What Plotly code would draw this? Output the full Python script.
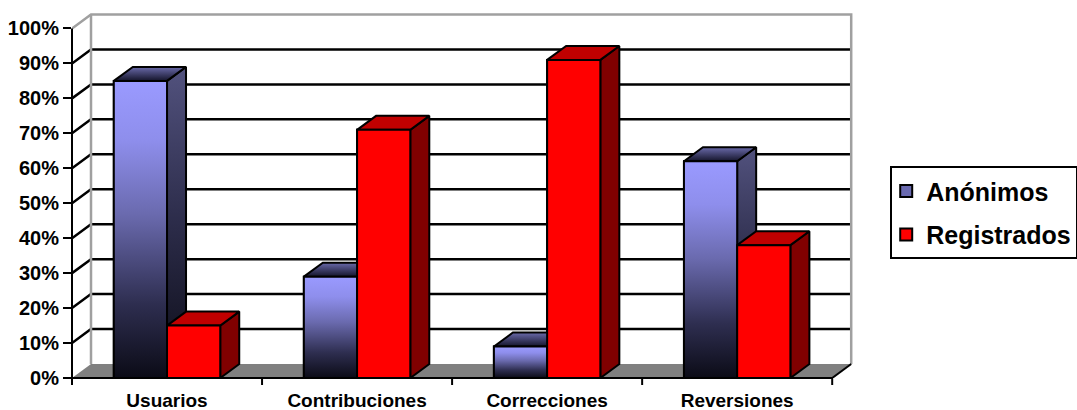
import plotly.graph_objects as go

# ---- data -------------------------------------------------------------
categories = ["Usuarios", "Contribuciones", "Correcciones", "Reversiones"]
anonimos = [0.85, 0.29, 0.09, 0.62]
registrados = [0.15, 0.71, 0.91, 0.38]
series_names = ["Anónimos", "Registrados"]
y_tick_values = [0.0, 0.1, 0.2, 0.3, 0.4, 0.5, 0.6, 0.7, 0.8, 0.9, 1.0]
y_tick_labels = ["0%", "10%", "20%", "30%", "40%", "50%", "60%", "70%", "80%", "90%", "100%"]

# ---- geometry of the pseudo-3D box (axis units) -----------------------
BAR_W = 0.28          # width of one bar
DX, DY = 0.10, 0.04   # depth offset of the back wall / bar depth
X_RANGE = [-0.5, 3.62]
Y_RANGE = [0.0, 1.05]

W, H = 1077, 410
M_L, M_R, M_T, M_B = 72, 222.2, 10.8, 32.3
PLOT_W = W - M_L - M_R
PLOT_H = H - M_T - M_B

FONT = "Liberation Sans, Arial, sans-serif"

# face styles: (front, side, top) -> either gradient colorscale or solid color
BLUE = {
    "front": [[0, "#0b0b16"], [0.25, "#2e2e50"], [0.55, "#6a6aae"], [0.8, "#8e8eec"], [1, "#9a9aff"]],
    "side": [[0, "#0c0c16"], [0.5, "#2c2c4a"], [1, "#52527e"]],
    "top": [[0, "#14142a"], [1, "#6a6aaa"]],
}
RED = {"front": "#ff0000", "side": "#800000", "top": "#c00000"}
legend_colors = ["#6a6ab0", "#ff0000"]


def px(xv):
    """data x -> paper x"""
    return (xv - X_RANGE[0]) / (X_RANGE[1] - X_RANGE[0])


def py(yv):
    """data y -> paper y"""
    return (yv - Y_RANGE[0]) / (Y_RANGE[1] - Y_RANGE[0])


fig = go.Figure()

# real bar traces (front faces, also supply the legend)
xpos = list(range(len(categories)))
for name, vals, col in zip(series_names, [anonimos, registrados], legend_colors):
    fig.add_trace(go.Bar(
        x=xpos, y=vals, name=name, legendgroup=name,
        marker=dict(color=col, line=dict(color="black", width=2)),
        hoverinfo="skip",
    ))


def add_face(xs, ys, style):
    kw = dict(
        x=xs + [xs[0]], y=ys + [ys[0]], mode="lines", fill="toself",
        line=dict(color="black", width=2), showlegend=False, hoverinfo="skip",
    )
    if isinstance(style, str):
        kw["fillcolor"] = style
    else:
        kw["fillgradient"] = dict(type="vertical", colorscale=style)
    fig.add_trace(go.Scatter(**kw))


# shaded faces, drawn left to right so nearer faces cover farther ones
for i in range(len(categories)):
    for k, (vals, sty) in enumerate([(anonimos, BLUE), (registrados, RED)]):
        v = vals[i]
        xl = i - BAR_W + k * BAR_W
        xr = xl + BAR_W
        add_face([xr, xr + DX, xr + DX, xr], [0, DY, v + DY, v], sty["side"])
        add_face([xl, xr, xr + DX, xl + DX], [v, v, v + DY, v + DY], sty["top"])
        add_face([xl, xr, xr, xl], [0, 0, v, v], sty["front"])

shapes = []
x0, x1 = -0.5, 3.5
# floor
shapes.append(dict(type="path", xref="x", yref="y", layer="below",
                   path=f"M{x0},0 L{x0+DX},{DY} L{x1+DX},{DY} L{x1},0 Z",
                   fillcolor="#808080", line=dict(width=0)))
# gridlines on side and back wall
for v in y_tick_values[1:-1]:
    shapes.append(dict(type="path", xref="x", yref="y", layer="below",
                       path=f"M{x0},{v} L{x0+DX},{v+DY} L{x1+DX},{v+DY}",
                       line=dict(color="black", width=2.5)))
# wall borders
top = y_tick_values[-1]
shapes.append(dict(type="path", xref="x", yref="y", layer="below",
                   path=f"M{x0},{top} L{x0+DX},{top+DY} L{x1+DX},{top+DY} L{x1+DX},{DY}",
                   line=dict(color="#a0a0a0", width=2.5)))
shapes.append(dict(type="line", xref="x", yref="y", layer="below",
                   x0=x0 + DX, x1=x0 + DX, y0=DY, y1=top + DY,
                   line=dict(color="#a0a0a0", width=2.5)))
# right edge of floor
shapes.append(dict(type="line", xref="x", yref="y", layer="above",
                   x0=x1, x1=x1 + DX, y0=0, y1=DY, line=dict(color="black", width=2)))
# front axes
tick_down = 7 / PLOT_H
shapes.append(dict(type="line", xref="paper", yref="paper", layer="above",
                   x0=0, x1=0, y0=-tick_down, y1=py(top), line=dict(color="black", width=2)))
shapes.append(dict(type="line", xref="paper", yref="paper", layer="above",
                   x0=0, x1=px(x1), y0=0, y1=0, line=dict(color="black", width=2)))
for b in [0.5, 1.5, 2.5, 3.5]:
    shapes.append(dict(type="line", xref="paper", yref="paper", layer="above",
                       x0=px(b), x1=px(b), y0=0, y1=-tick_down, line=dict(color="black", width=2)))

fig.update_layout(
    width=W, height=H,
    margin=dict(l=M_L, r=M_R, t=M_T, b=M_B, autoexpand=False),
    template="none",
    paper_bgcolor="white", plot_bgcolor="rgba(0,0,0,0)",
    barmode="group", bargap=0.44, bargroupgap=0,
    shapes=shapes,
    showlegend=True,
    legend=dict(
        x=(890 - M_L) / PLOT_W, y=1 - (166 - M_T) / PLOT_H,
        xanchor="left", yanchor="top",
        bgcolor="white", bordercolor="black", borderwidth=2,
        font=dict(family=FONT, size=25, color="black", weight="bold"),
        traceorder="grouped", tracegroupgap=8, indentation=-6,
    ),
    xaxis=dict(
        range=X_RANGE, tickvals=xpos, ticktext=categories, ticks="",
        showline=False, showgrid=False, zeroline=False, automargin=False,
        ticklabelstandoff=9,
        tickfont=dict(family=FONT, size=19, color="black", weight="bold"),
    ),
    yaxis=dict(
        range=Y_RANGE, tickvals=y_tick_values, ticktext=y_tick_labels,
        ticks="outside", ticklen=8, tickwidth=2, tickcolor="black",
        showline=False, showgrid=False, zeroline=False, automargin=False,
        tickfont=dict(family=FONT, size=20, color="black", weight="bold"),
    ),
)

fig.write_html("out.html")
